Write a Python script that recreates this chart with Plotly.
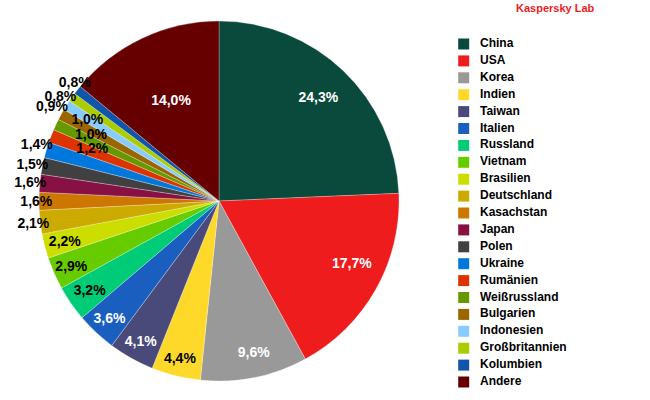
import math
import plotly.graph_objects as go

countries = ["China", "USA", "Korea", "Indien", "Taiwan", "Italien", "Russland", "Vietnam",
             "Brasilien", "Deutschland", "Kasachstan", "Japan", "Polen", "Ukraine", "Rumänien",
             "Weißrussland", "Bulgarien", "Indonesien", "Großbritannien", "Kolumbien", "Andere"]
shares = [24.3, 17.7, 9.6, 4.4, 4.1, 3.6, 3.2, 2.9, 2.2, 2.1, 1.6, 1.6, 1.5, 1.4, 1.2,
          1.0, 1.0, 0.9, 0.8, 0.8, 14.0]
colors = ["#0a4a3c", "#ee1c1c", "#999999", "#ffd92a", "#4a4a7a", "#1a5fbf", "#00cc77",
          "#66cc00", "#ccdd00", "#ccaa00", "#cc7700", "#881144", "#404040", "#0077dd",
          "#dd3300", "#669900", "#996600", "#88ccff", "#aacc00", "#1155aa", "#660000"]
text_colors = ["white", "white", "white", "black", "white", "white", "black", "black",
               "black", "black", "black", "black", "black", "black", "black",
               "black", "black", "black", "black", "black", "white"]
# style: distance of each percentage label from the pie centre (px) and small angular nudge (deg)
label_dist = [144, 147, 155, 162, 160, 160, 157, 161, 159, 191, 193, 194, 193, 192, 137,
              144.5, 155, 192, 190, 187, 112]
label_nudge = [0, -4.3, -1.7, 0, 0, 0, 0, 0, 0, 0, 0, 0, 0, 0.9, 1.5,
               2.7, 3.3, -2.5, -1.7, 1.5, 0]
source_label = "Kaspersky Lab"

labels_text = [f"{v:.1f}%".replace(".", ",") for v in shares]

W, H = 650, 400
CX, CY = 219, 201
R_MAIN = 180
R_MAX = 199
HOLE = 0.7


def dom(r):
    return dict(x=[(CX - r) / W, (CX + r) / W], y=[(H - CY - r) / H, (H - CY + r) / H])


fig = go.Figure()

fig.add_trace(go.Pie(
    labels=countries, values=shares, sort=False, direction="clockwise", rotation=0,
    textinfo="none", showlegend=False, hoverinfo="label+percent",
    marker=dict(colors=colors, line=dict(color="rgba(255,255,255,0.45)", width=0.6)),
    domain=dom(R_MAIN),
))

total = sum(shares)
for i, (lab, dist, nudge) in enumerate(zip(labels_text, label_dist, label_nudge)):
    half = math.pi * shares[i] / total
    s = math.sin(half)
    frac = 1 - min(s / (1 + s), (1 - HOLE) / 2)
    r_layer = min(dist / frac, R_MAX)
    txt = [""] * len(shares)
    txt[i] = lab
    fig.add_trace(go.Pie(
        labels=countries, values=shares, sort=False, direction="clockwise", rotation=nudge,
        text=txt, textinfo="text", textposition="inside", insidetextorientation="horizontal",
        showlegend=False, hoverinfo="skip", hole=HOLE,
        marker=dict(colors=["rgba(0,0,0,0)"] * len(shares), line=dict(width=0)),
        textfont=dict(family="Liberation Sans", size=14, color=text_colors, weight="bold"),
        domain=dom(r_layer),
    ))

# legend drawn as a small marker + text column
fig.add_trace(go.Scatter(
    x=[0] * len(countries), y=countries, mode="markers", showlegend=False, hoverinfo="skip",
    marker=dict(symbol="square", size=11, color=colors, line=dict(width=0)),
    xaxis="x", yaxis="y",
))
fig.add_trace(go.Scatter(
    x=[1] * len(countries), y=countries, mode="text", text=countries,
    textposition="middle right", showlegend=False, hoverinfo="skip",
    textfont=dict(family="Liberation Sans", size=12, color="black", weight="bold"),
    xaxis="x", yaxis="y",
))

px_per_x = 16.3
x0_px = 463.7
leg_left = 0.7 * W
xr0 = (leg_left - x0_px) / px_per_x
xr1 = xr0 + (W - leg_left) / px_per_x
px_per_y = 16.9
y0_px = 44
yr_top = -y0_px / px_per_y
yr_bot = yr_top + H / px_per_y

fig.update_layout(
    width=W, height=H,
    margin=dict(l=0, r=0, t=0, b=0),
    paper_bgcolor="white",
    plot_bgcolor="rgba(0,0,0,0)",
    uniformtext=dict(minsize=14, mode="show"),
    font=dict(family="Liberation Sans", size=12, color="black"),
    xaxis=dict(domain=[0.7, 1.0], range=[xr0, xr1], visible=False, fixedrange=True),
    yaxis=dict(domain=[0, 1], type="category", range=[yr_bot, yr_top], visible=False,
               fixedrange=True),
    annotations=[dict(text="<b>" + source_label + "</b>", x=0.854, y=1.0, xref="paper",
                      yref="paper", xanchor="center", yanchor="top", showarrow=False,
                      font=dict(family="Liberation Sans", size=11, color="#ee1c1c"))],
)

fig.write_html("out.html", config={"displayModeBar": False},
               post_script="document.body.style.margin='0';")
